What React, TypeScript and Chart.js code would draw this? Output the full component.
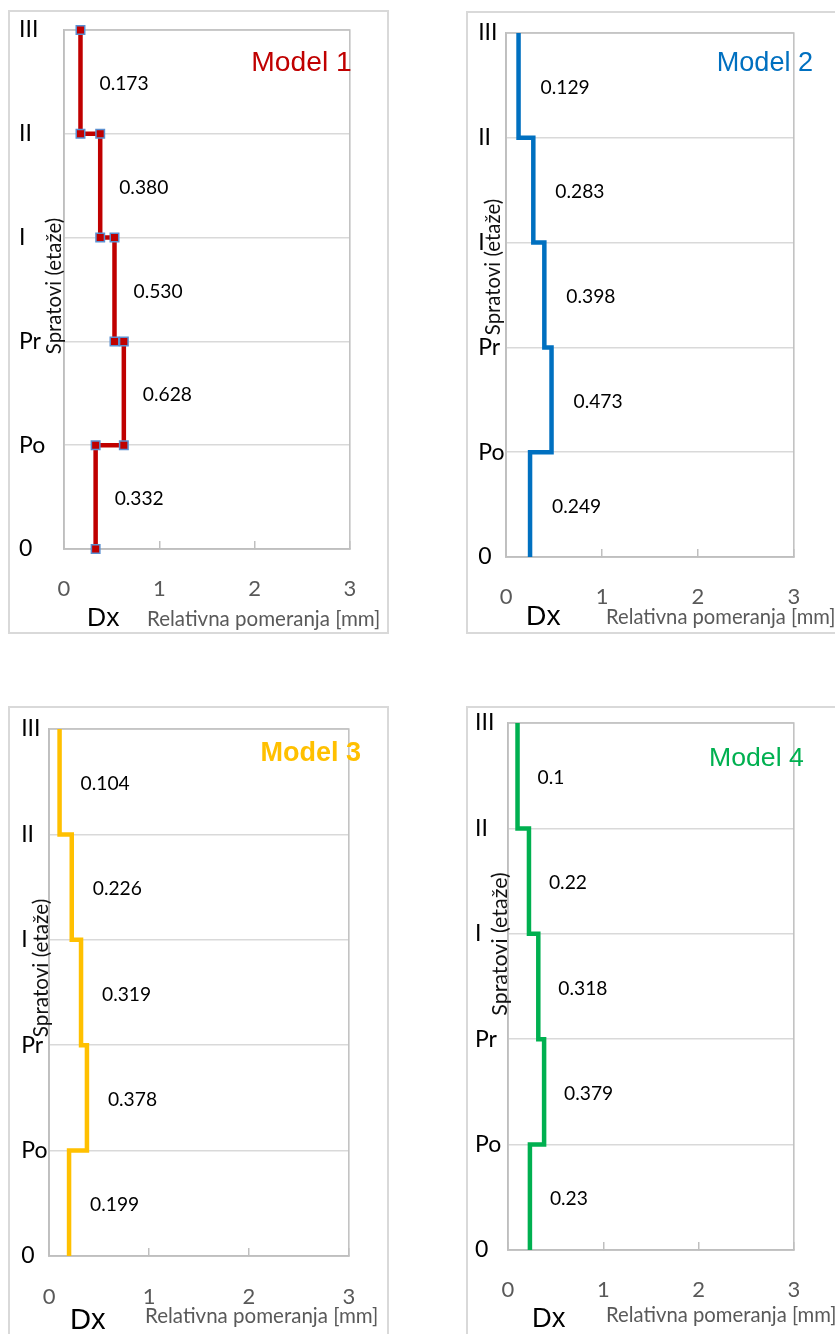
import React, { useEffect, useRef } from 'react';
import { Chart, registerables } from 'chart.js';

Chart.register(...registerables);

// ---------- data ----------
const FLOOR_LABELS = ['0', 'Po', 'Pr', 'I', 'II', 'III'];
const X_MIN = 0;
const X_MAX = 3;
const X_STEP = 1;
const MODEL_NAMES = ['Model 1', 'Model 2', 'Model 3', 'Model 4'];
// relative storey displacement Dx per storey segment (0→Po, Po→Pr, Pr→I, I→II, II→III)
const MODEL1_DX = [0.332, 0.628, 0.53, 0.38, 0.173];
const MODEL2_DX = [0.249, 0.473, 0.398, 0.283, 0.129];
const MODEL3_DX = [0.199, 0.378, 0.319, 0.226, 0.104];
const MODEL4_DX = [0.23, 0.379, 0.318, 0.22, 0.1];
const MODEL_DECIMALS = [3, 3, 3, 0]; // 0 = printed as-is
const Y_TITLE = 'Spratovi (etaže)';
const X_TITLE = 'Relativna pomeranja [mm]';
const X_SYMBOL = 'Dx';

// ---------- styling / layout ----------
const CALIBRI = 'Lato';
const ARIAL = "'Liberation Sans'";

type Cfg = any;

const PANELS: Cfg[] = [
  {
    values: MODEL1_DX, name: MODEL_NAMES[0], decimals: MODEL_DECIMALS[0], color: '#C00000', bold: false, markers: true,
    canvas: { x: 7, y: 9, w: 384, h: 627 }, box: { l: 9, t: 11, r: 388, b: 633 },
    plot: { l: 64, t: 30, r: 365, b: 549 }, yLabelX: 19, xLabelY: 589,
    title: { right: 351, base: 71, width: 97 },
    dx: { l: 89, r: 119, base: 626 }, rel: { l: 148, r: 378, base: 626 },
    yTitle: { cx: 54, cy: 286, len: 135 }, labelOffset: 19,
  },
  {
    values: MODEL2_DX, name: MODEL_NAMES[1], decimals: MODEL_DECIMALS[1], color: '#0070C0', bold: false, markers: false,
    canvas: { x: 465, y: 10, w: 370, h: 626 }, box: { l: 467, t: 12, r: 845, b: 633 },
    plot: { l: 503, t: 33, r: 823, b: 557 }, yLabelX: 475, xLabelY: 597,
    title: { right: 812, base: 71, width: 93 },
    dx: { l: 528, r: 560, base: 625 }, rel: { l: 607, r: 833, base: 624 },
    yTitle: { cx: 493, cy: 267, len: 135 }, labelOffset: 22,
  },
  {
    values: MODEL3_DX, name: MODEL_NAMES[2], decimals: MODEL_DECIMALS[2], color: '#FFC000', bold: true, markers: false,
    canvas: { x: 7, y: 705, w: 384, h: 629 }, box: { l: 9, t: 707, r: 388, b: 1345 },
    plot: { l: 45, t: 729, r: 365, b: 1256 }, yLabelX: 17, xLabelY: 1297,
    title: { right: 361, base: 761, width: 98 },
    dx: { l: 72, r: 105, base: 1329 }, rel: { l: 146, r: 376, base: 1323 },
    yTitle: { cx: 41, cy: 968, len: 137 }, labelOffset: 21,
  },
  {
    values: MODEL4_DX, name: MODEL_NAMES[3], decimals: MODEL_DECIMALS[3], color: '#00B050', bold: false, markers: false,
    canvas: { x: 465, y: 705, w: 370, h: 629 }, box: { l: 467, t: 707, r: 845, b: 1345 },
    plot: { l: 508, t: 723, r: 817, b: 1250 }, yLabelX: 475, xLabelY: 1290,
    title: { right: 804, base: 766, width: 92 },
    dx: { l: 534, r: 565, base: 1327 }, rel: { l: 607, r: 834, base: 1322 },
    yTitle: { cx: 500, cy: 944, len: 142 }, labelOffset: 20,
  },
];

const X_TICK_SIZE = 22;
const Y_TICK_SIZE = 23;
const TICK_IN = 8;

function inkFit(ctx: CanvasRenderingContext2D, text: string, font: (s: number) => string, width: number) {
  ctx.font = font(100);
  const m = ctx.measureText(text);
  const ink = m.actualBoundingBoxLeft + m.actualBoundingBoxRight;
  const size = (100 * width) / ink;
  ctx.font = font(size);
  const m2 = ctx.measureText(text);
  return { size, left: m2.actualBoundingBoxLeft, right: m2.actualBoundingBoxRight };
}

function fmt(v: number, d: number) {
  return d > 0 ? v.toFixed(d) : String(v);
}

function makeDecorPlugin(cfg: Cfg) {
  const ox = cfg.canvas.x;
  const oy = cfg.canvas.y;
  return {
    id: 'decor',
    beforeDraw(chart: any) {
      const ctx = chart.ctx;
      ctx.save();
      ctx.fillStyle = '#ffffff';
      ctx.fillRect(0, 0, chart.width, chart.height);
      ctx.strokeStyle = '#D9D9D9';
      ctx.lineWidth = 2;
      ctx.strokeRect(cfg.box.l - ox, cfg.box.t - oy, cfg.box.r - cfg.box.l, cfg.box.b - cfg.box.t);
      ctx.restore();
    },
    beforeDatasetsDraw(chart: any) {
      const ctx = chart.ctx;
      const a = chart.chartArea;
      ctx.save();
      ctx.strokeStyle = '#BFBFBF';
      ctx.lineWidth = 1.5;
      ctx.strokeRect(a.left, a.top, a.right - a.left, a.bottom - a.top);
      ctx.restore();
    },
    afterDraw(chart: any) {
      const ctx: CanvasRenderingContext2D = chart.ctx;
      const xs = chart.scales.x;
      const ys = chart.scales.y;
      ctx.save();
      ctx.textAlign = 'left';
      ctx.textBaseline = 'alphabetic';

      // Model title
      const tf = (s: number) => `${cfg.bold ? 'bold ' : ''}${s}px ${ARIAL}`;
      const t = inkFit(ctx, cfg.name, tf, cfg.title.width);
      ctx.fillStyle = cfg.color;
      ctx.fillText(cfg.name, cfg.title.right - ox - t.right, cfg.title.base - oy);

      // Dx symbol
      const df = (s: number) => `${s}px ${ARIAL}`;
      const d = inkFit(ctx, X_SYMBOL, df, cfg.dx.r - cfg.dx.l);
      ctx.fillStyle = '#000000';
      ctx.fillText(X_SYMBOL, cfg.dx.l - ox + d.left, cfg.dx.base - oy);

      // x title
      const rf = (s: number) => `${s}px ${CALIBRI}`;
      const r = inkFit(ctx, X_TITLE, rf, cfg.rel.r - cfg.rel.l);
      ctx.fillStyle = '#595959';
      ctx.fillText(X_TITLE, cfg.rel.l - ox + r.left, cfg.rel.base - oy);

      // value labels
      const vf = (s: number) => `${s}px ${CALIBRI}`;
      const v = inkFit(ctx, '0.000', vf, 48);
      ctx.font = vf(v.size);
      ctx.fillStyle = '#000000';
      ctx.textBaseline = 'middle';
      cfg.values.forEach((val: number, i: number) => {
        const px = xs.getPixelForValue(val) + cfg.labelOffset;
        const py = ys.getPixelForValue(i + 0.5) + 2;
        ctx.fillText(fmt(val, cfg.decimals), px, py);
      });

      // y title (rotated)
      const yf = (s: number) => `${s}px ${CALIBRI}`;
      const y = inkFit(ctx, Y_TITLE, yf, cfg.yTitle.len);
      ctx.font = yf(y.size);
      ctx.fillStyle = '#111111';
      ctx.translate(cfg.yTitle.cx - ox, cfg.yTitle.cy - oy);
      ctx.rotate(-Math.PI / 2);
      ctx.textAlign = 'center';
      ctx.textBaseline = 'middle';
      ctx.fillText(Y_TITLE, 0, 0);
      ctx.restore();
    },
  };
}

function Panel({ cfg }: { cfg: Cfg }) {
  const ref = useRef<HTMLCanvasElement>(null);
  useEffect(() => {
    const c = cfg.canvas;
    const padLeft = cfg.yLabelX - c.x;
    const yAxisW = cfg.plot.l - cfg.yLabelX;
    const padTop = cfg.plot.t - c.y;
    const padRight = c.x + c.w - cfg.plot.r;
    const xAxisH = c.y + c.h - cfg.plot.b;
    const xPad = cfg.xLabelY - cfg.plot.b + TICK_IN - 0.6 * X_TICK_SIZE;

    const points = cfg.values.flatMap((val: number, i: number) => [
      { x: val, y: i },
      { x: val, y: i + 1 },
    ]);

    const chart = new Chart(ref.current as HTMLCanvasElement, {
      type: 'line',
      data: {
        datasets: [
          {
            data: points,
            borderColor: cfg.color,
            borderWidth: 4.5,
            borderJoinStyle: 'miter',
            borderCapStyle: 'butt',
            tension: 0,
            fill: false,
            clip: false as any,
            pointStyle: 'rect',
            pointRadius: cfg.markers ? 6 : 0,
            pointBackgroundColor: cfg.color,
            pointBorderColor: '#5B8FD0',
            pointBorderWidth: 1.5,
          } as any,
        ],
      },
      options: {
        responsive: false,
        animation: false,
        devicePixelRatio: 1,
        events: [],
        layout: { padding: { left: padLeft, top: padTop, right: padRight, bottom: 0 } },
        plugins: { legend: { display: false }, tooltip: { enabled: false }, title: { display: false } },
        scales: {
          x: {
            type: 'linear',
            min: X_MIN,
            max: X_MAX,
            ticks: {
              stepSize: X_STEP,
              color: '#595959',
              font: { family: CALIBRI, size: X_TICK_SIZE },
              padding: xPad,
              maxRotation: 0,
            },
            grid: { drawOnChartArea: false, drawTicks: true, tickLength: -TICK_IN, color: '#BFBFBF', lineWidth: 1.5 },
            border: { display: true, color: '#BFBFBF', width: 1.5 },
            afterFit: (s: any) => {
              s.height = xAxisH;
            },
          },
          y: {
            type: 'linear',
            min: 0,
            max: FLOOR_LABELS.length - 1,
            ticks: {
              stepSize: 1,
              callback: (val: any) => FLOOR_LABELS[val] ?? '',
              color: '#000000',
              font: { family: CALIBRI, size: Y_TICK_SIZE },
              crossAlign: 'far',
            },
            grid: { color: '#D9D9D9', lineWidth: 1.5, drawTicks: false },
            border: { display: true, color: '#BFBFBF', width: 1.5 },
            afterFit: (s: any) => {
              s.width = yAxisW;
            },
          },
        },
      } as any,
      plugins: [makeDecorPlugin(cfg)],
    });
    return () => chart.destroy();
  }, [cfg]);

  return (
    <canvas
      ref={ref}
      width={cfg.canvas.w}
      height={cfg.canvas.h}
      style={{
        position: 'absolute',
        left: cfg.canvas.x,
        top: cfg.canvas.y,
        width: cfg.canvas.w,
        height: cfg.canvas.h,
      }}
    />
  );
}

export default function App() {
  return (
    <div
      style={{
        position: 'absolute',
        left: 0,
        top: 0,
        width: 835,
        height: 1334,
        overflow: 'hidden',
        background: '#ffffff',
      }}
    >
      {PANELS.map((p, i) => (
        <Panel key={i} cfg={p} />
      ))}
    </div>
  );
}
